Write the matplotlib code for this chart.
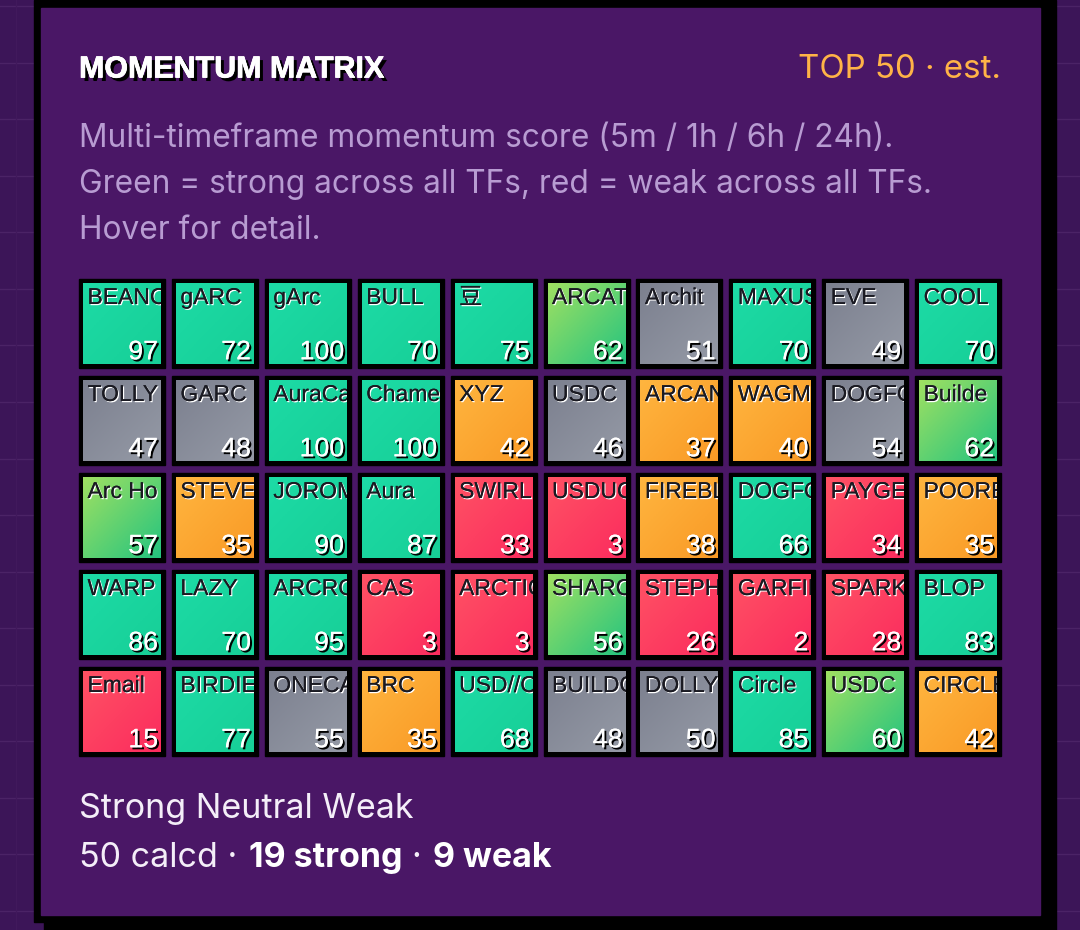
import matplotlib
matplotlib.use('Agg')
import matplotlib.pyplot as plt
from matplotlib.colors import LinearSegmentedColormap
from matplotlib.patches import Rectangle
import matplotlib.patheffects as pe
import numpy as np

names = ['BEANC', 'gARC', 'gArc', 'BULL', '豆', 'ARCAT', 'Archit', 'MAXUS', 'EVE', 'COOL',
         'TOLLY', 'GARC', 'AuraCa', 'Chame', 'XYZ', 'USDC', 'ARCAN', 'WAGM', 'DOGFO', 'Builde',
         'Arc Ho', 'STEVE', 'JOROM', 'Aura', 'SWIRL', 'USDUC', 'FIREBL', 'DOGFO', 'PAYGE', 'POORE',
         'WARP', 'LAZY', 'ARCRO', 'CAS', 'ARCTIC', 'SHARC', 'STEPH', 'GARFIE', 'SPARK', 'BLOP',
         'Email', 'BIRDIE', 'ONECA', 'BRC', 'USD//C', 'BUILDO', 'DOLLY', 'Circle', 'USDC', 'CIRCLE']
scores = [97, 72, 100, 70, 75, 62, 51, 70, 49, 70,
          47, 48, 100, 100, 42, 46, 37, 40, 54, 62,
          57, 35, 90, 87, 33, 3, 38, 66, 34, 35,
          86, 70, 95, 3, 3, 56, 26, 2, 28, 83,
          15, 77, 55, 35, 68, 48, 50, 85, 60, 42]
subtitle = ['Multi-timeframe momentum score (5m / 1h / 6h / 24h).',
            'Green = strong across all TFs, red = weak across all TFs.',
            'Hover for detail.']

BG = '#3c1558'
PANEL = '#4a1766'
SANS = ['Inter', 'DejaVu Sans']
CELL = ['Liberation Sans', 'Noto Sans CJK SC']


def grad_for(score):
    if score >= 65:
        return ('#1ddba6', '#17cf97')
    if score > 55:
        return ('#9fe062', '#25c47f')
    if score >= 45:
        return ('#7c808f', '#959aa6')
    if score >= 35:
        return ('#ffb53f', '#f99a26')
    return ('#ff5264', '#fb2c5e')


def shadow(dx, color):
    # hard offset shadow, dx in pixels
    return pe.withSimplePatchShadow(offset=(dx * 0.72, -dx * 0.72), shadow_rgbFace=color, alpha=1)


fig = plt.figure(figsize=(10.8, 9.3), dpi=100, facecolor=BG)
ax = fig.add_axes([0, 0, 1, 1])
ax.set_xlim(0, 1080)
ax.set_ylim(930, 0)
ax.axis('off')

for y in np.arange(6.5, 930, 56.5):
    ax.plot([0, 1080], [y, y], color='#4b2366', lw=1, zorder=0)
for x in np.arange(16, 1080, 56.5):
    ax.plot([x, x], [0, 930], color='#41195c', lw=1, zorder=0)

# panel, border and hard shadow
ax.add_patch(Rectangle((44, 0), 1011.5, 930, color='black', zorder=1))
ax.add_patch(Rectangle((34, 0), 1013, 922, color='black', zorder=2))
ax.add_patch(Rectangle((41, 8), 998.5, 907, color=PANEL, zorder=3))

ax.text(79, 77.5, 'MOMENTUM MATRIX', color='white', fontsize=21.9, fontweight='bold',
        family='Liberation Sans', va='baseline', zorder=5,
        path_effects=[shadow(3.5, 'black'), pe.withStroke(linewidth=0.5, foreground='white')])
ax.text(1001, 78.3, 'TOP 50 · est.', color='#ffb347', fontsize=23.8, family=SANS,
        ha='right', va='baseline', zorder=5)

for i, line in enumerate(subtitle):
    ax.text(79, 147 + i * 46, line, color='#b89cd2', fontsize=22.8, family=SANS,
            va='baseline', zorder=5)

cell_w = 86
cell_h = 88.6
x_step = 92.9
y_step = 97
for i, (name, score) in enumerate(zip(names, scores)):
    col = i % 10
    row = i // 10
    x0 = 79 + col * x_step
    y0 = 279 + row * y_step
    ax.add_patch(Rectangle((x0, y0), cell_w, cell_h, color='black', zorder=4))
    ix0, iy0 = x0 + 4, y0 + 4
    iw, ih = cell_w - 8, cell_h - 8
    cmap = LinearSegmentedColormap.from_list('g', grad_for(score))
    u, v = np.meshgrid(np.linspace(0, 1, 48), np.linspace(0, 1, 48))
    im = ax.imshow((u + v) / 2, extent=(ix0, ix0 + iw, iy0 + ih, iy0), cmap=cmap,
                   vmin=0, vmax=1, aspect='auto', zorder=5)
    clip = Rectangle((ix0, iy0), iw, ih, transform=ax.transData)
    im.set_clip_path(clip)
    t = ax.text(ix0 + 4.5, y0 + 25, name, color='#1a1a22', fontsize=16.5, family=CELL,
                va='baseline', zorder=7, clip_on=True,
                path_effects=[shadow(1.2, 'white'), pe.Normal()])
    t.set_clip_path(clip)
    t = ax.text(ix0 + iw - 3, y0 + 80.3, str(score), color='white', fontsize=19.3, family=CELL,
                ha='right', va='baseline', zorder=7, clip_on=True,
                path_effects=[shadow(2, 'black'), pe.Normal()])
    t.set_clip_path(clip)

ax.text(79, 818, 'Strong Neutral Weak', color='#f4eef8', fontsize=24.5, family=SANS, va='baseline', zorder=5)
ax.text(79, 867, '50 calcd ·', color='#f4eef8', fontsize=24.5, family=SANS, va='baseline', zorder=5)
ax.text(249, 867, '19 strong', color='white', fontsize=24.5, fontweight='bold', family=SANS, va='baseline', zorder=5)
ax.text(411, 867, '·', color='#f4eef8', fontsize=24.5, family=SANS, va='baseline', zorder=5)
ax.text(433, 867, '9 weak', color='white', fontsize=24.5, fontweight='bold', family=SANS, va='baseline', zorder=5)

ax.set_xlim(0, 1080)
ax.set_ylim(930, 0)
fig.savefig('out.png', dpi=100, facecolor=BG)
plt.close(fig)
